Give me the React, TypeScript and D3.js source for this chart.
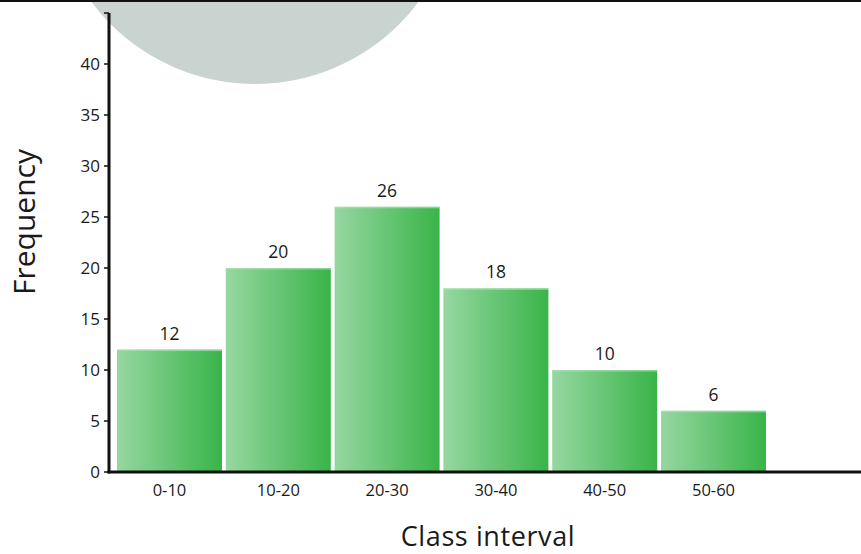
import React from "react";
import * as d3 from "d3";

const categories = ["0-10", "10-20", "20-30", "30-40", "40-50", "50-60"];
const frequencies = [12, 20, 26, 18, 10, 6];
const yTicks = [0, 5, 10, 15, 20, 25, 30, 35, 40];
const xTitle = "Class interval";
const yTitle = "Frequency";

const W = 861;
const H = 554;
const FONT = "'Open Sans', 'Noto Sans', sans-serif";

export default function App() {
  const x = d3.scaleBand<string>().domain(categories).range([115.1, 767.9]).paddingInner(0.035).paddingOuter(0.0175);
  const y = d3.scaleLinear().domain([0, 45]).range([472, 13]);
  const axisX = 109;

  return (
    <svg width={W} height={H} style={{ position: "fixed", left: 0, top: 0, background: "#fff" }} fontFamily={FONT}>
      <defs>
        <linearGradient id="barGrad" x1="0" x2="1" y1="0" y2="0">
          <stop offset="0%" stopColor="#96d7a1" />
          <stop offset="100%" stopColor="#39b449" />
        </linearGradient>
      </defs>
      <rect x={0} y={0} width={W} height={H} fill="#fff" />
      <circle cx={255} cy={-120} r={204} fill="#c9d3d0" />
      <line x1={0} x2={W} y1={1} y2={1} stroke="#111" strokeWidth={2} />

      {frequencies.map((f, i) => (
        <g key={categories[i]}>
          <rect
            x={x(categories[i])}
            y={y(f)}
            width={x.bandwidth()}
            height={y(0) - y(f)}
            fill="url(#barGrad)"
          />
          <rect
            x={x(categories[i])}
            y={y(f)}
            width={x.bandwidth()}
            height={1.5}
            fill="#a9dfb1"
            opacity={0.7}
          />
          <text
            x={(x(categories[i]) as number) + x.bandwidth() / 2}
            y={y(f) - 10}
            textAnchor="middle"
            fontSize={17.5}
            fill="#1a1a1a"
          >
            {f}
          </text>
          <text
            x={(x(categories[i]) as number) + x.bandwidth() / 2}
            y={496}
            textAnchor="middle"
            fontSize={16.5}
            fill="#1a1a1a"
          >
            {categories[i]}
          </text>
        </g>
      ))}

      <line x1={axisX} x2={axisX} y1={y(45)} y2={y(0) + 1.5} stroke="#111" strokeWidth={3} />
      <line x1={axisX - 1.5} x2={W} y1={y(0)} y2={y(0)} stroke="#111" strokeWidth={3} />
      {yTicks.map((t) => (
        <g key={t}>
          <line x1={axisX - 5} x2={axisX} y1={y(t)} y2={y(t)} stroke="#111" strokeWidth={1.5} />
          <text x={axisX - 9} y={y(t)} dy="0.35em" textAnchor="end" fontSize={17} fill="#1a1a1a">
            {t}
          </text>
        </g>
      ))}
      <line x1={axisX - 5} x2={axisX} y1={y(45)} y2={y(45)} stroke="#111" strokeWidth={1.5} />

      <text x={488} y={546} textAnchor="middle" fontSize={27} letterSpacing={0.6} fill="#1a1a1a">
        {xTitle}
      </text>
      <text
        transform={`translate(35,222) rotate(-90)`}
        textAnchor="middle"
        fontSize={30}
        fill="#1a1a1a"
      >
        {yTitle}
      </text>
    </svg>
  );
}
